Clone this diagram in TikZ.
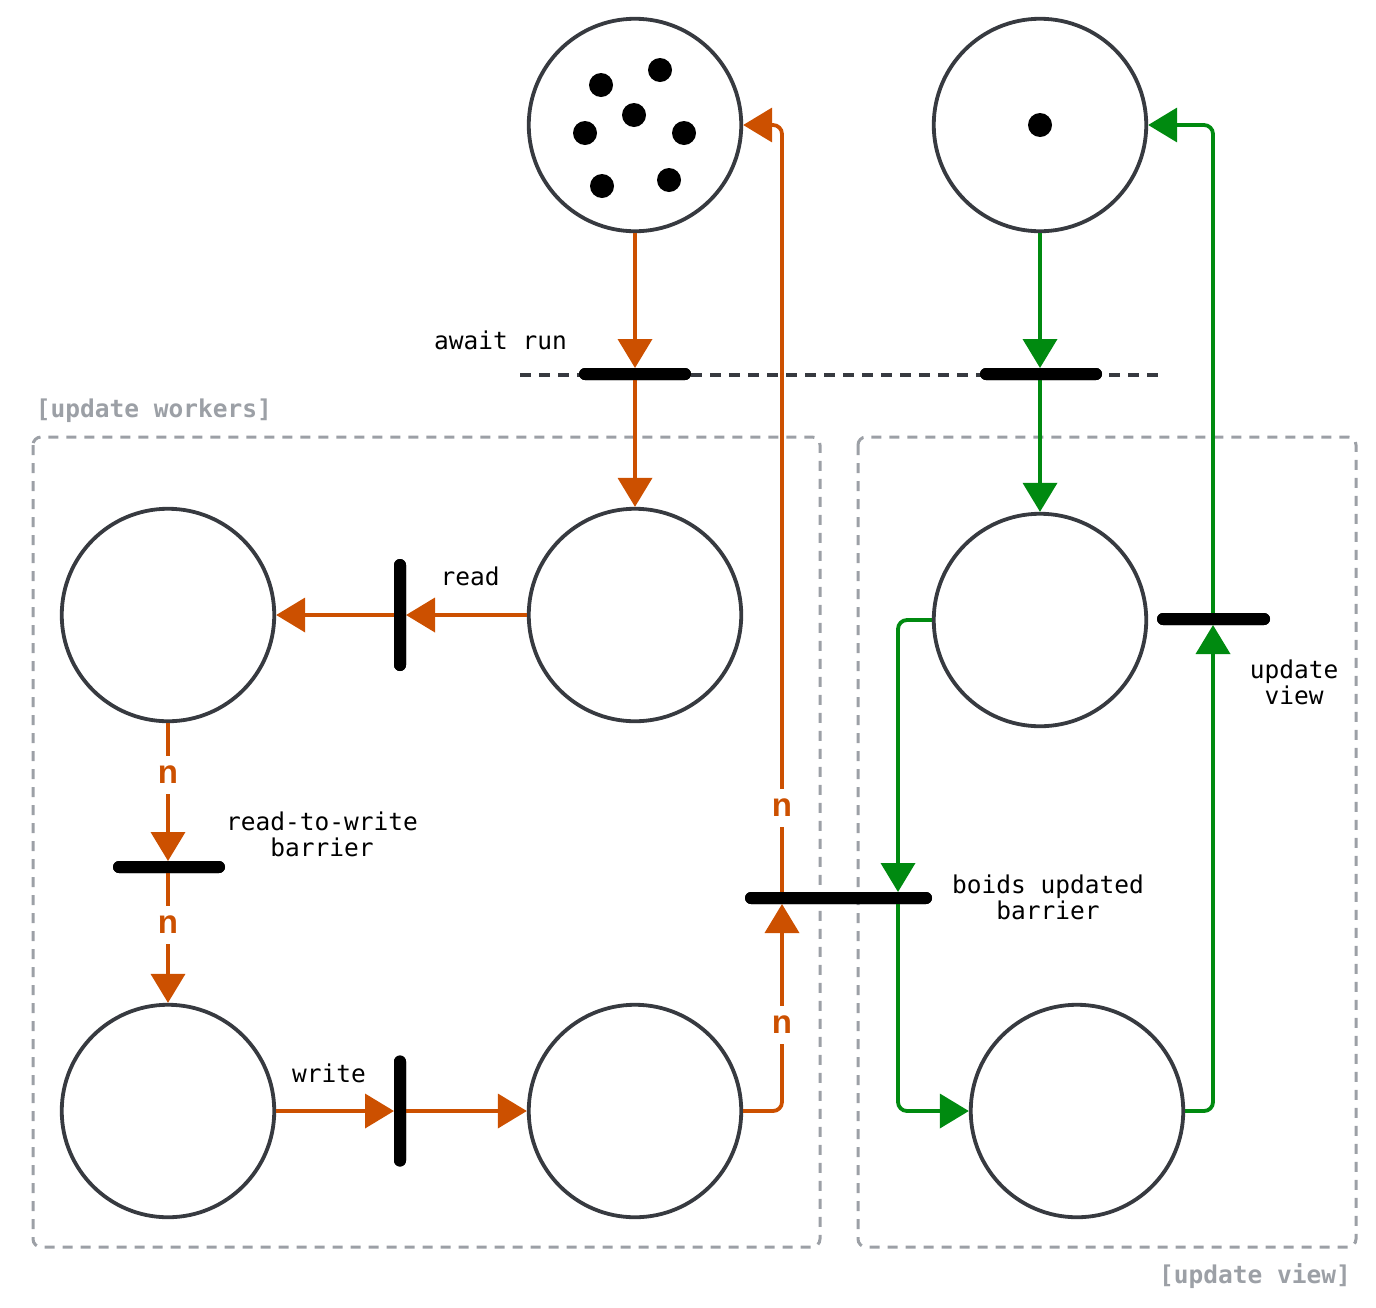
\documentclass[tikz,border=0pt]{standalone}
\usepackage{fontspec}
\newfontfamily\monof{DejaVu Sans Mono}
\newfontfamily\nfont{Liberation Sans}
\usetikzlibrary{arrows.meta,calc}
\definecolor{orng}{HTML}{CC5000}
\definecolor{grn}{HTML}{008A10}
\definecolor{ring}{HTML}{373A40}
\definecolor{boxg}{HTML}{9CA0A6}
\begin{document}
\begin{tikzpicture}[x=1pt,y=-1pt,
  place/.style={circle,draw=ring,line width=3.8pt,minimum size=212.5pt,inner sep=0pt},
  tok/.style={circle,fill=black,minimum size=24pt,inner sep=0pt},
  hbar/.style={rectangle,fill=black,rounded corners=6pt,minimum height=12pt,inner sep=0pt,outer sep=0pt},
  vbar/.style={rectangle,fill=black,rounded corners=6pt,minimum width=12pt,inner sep=0pt,outer sep=0pt},
  tip/.style={-{Triangle[length=29pt,width=34pt]}},
  oarc/.style={tip,draw=orng,line width=3.8pt,rounded corners=9pt},
  garc/.style={tip,draw=grn,line width=3.8pt,rounded corners=9pt},
  lab/.style={font=\monof\fontsize{24.5}{26}\selectfont,inner sep=0pt,anchor=base},
  glab/.style={font=\monof\bfseries\fontsize{24.5}{26}\selectfont,text=boxg,inner sep=0pt,anchor=base},
  nlab/.style={font=\nfont\bfseries\fontsize{33}{33}\selectfont,text=orng,fill=white,inner sep=0pt,minimum height=38pt},
  gbox/.style={draw=boxg,line width=3pt,dash pattern=on 10pt off 8pt,rounded corners=8pt}
]
\useasboundingbox (0,0) rectangle (1376,1307);

% group boxes
\draw[gbox] (33,437) rectangle (820,1247);
\draw[gbox] (858,437) rectangle (1356,1247);
\node[glab] (gl1) at (154,417) {[update workers]};
\node[glab] (gl2) at (1255,1283) {[update view]};

% dashed sync line
\coordinate (dl) at (520,375);
\coordinate (dr) at (1158,375);
\draw[ring,line width=3.5pt,dash pattern=on 11pt off 8pt] (dl) -- (dr);

% places
\node[place] (t1) at (635,125) {};
\node[place] (t2) at (1040,125) {};
\node[place] (pm) at (635,615) {};
\node[place] (pl) at (168,615) {};
\node[place] (plb) at (168,1111) {};
\node[place] (pbm) at (635,1111) {};
\node[place] (prm) at (1040,620) {};
\node[place] (prb) at (1077,1111) {};

% tokens
\node[tok] (k1) at (601,85) {};
\node[tok] (k2) at (660,70) {};
\node[tok] (k3) at (634,115) {};
\node[tok] (k4) at (585,133) {};
\node[tok] (k5) at (684,133) {};
\node[tok] (k6) at (602,186) {};
\node[tok] (k7) at (669,180) {};
\node[tok] (k8) at (1040,125) {};

% transitions (named first, drawn on top later)
\path (635,374) node[hbar,minimum width=112pt] (ta) {}
      (1041,374) node[hbar,minimum width=122pt] (tr) {}
      (400,615) node[vbar,minimum height=112pt] (trd) {}
      (169,867) node[hbar,minimum width=112pt] (trw) {}
      (400,1111) node[vbar,minimum height=111pt] (twr) {}
      (838.5,898) node[hbar,minimum width=187pt] (tb) {}
      (1213.5,619) node[hbar,minimum width=113pt] (tuv) {};

% orange arcs
\draw[oarc] (t1.south) -- (ta.north -| t1.south);
\draw[oarc] (ta.south -| pm.north) -- (pm.north);
\draw[oarc] (pm.west) -- (trd.east);
\draw[oarc] (trd.west) -- (pl.east);
\draw[oarc] (pl.south) -- (trw.north -| pl.south);
\draw[oarc] (trw.south -| pl.south) -- (plb.north);
\draw[oarc] (plb.east) -- (twr.west);
\draw[oarc] (twr.east) -- (pbm.west);
\draw[oarc] (pbm.east) -| (tb.south -| 782,0);
\draw[oarc] (tb.north -| 782,0) |- (t1.east);

% green arcs
\draw[garc] (t2.south) -- (tr.north -| t2.south);
\draw[garc] (tr.south -| t2.south) -- (prm.north);
\draw[garc] (prm.west) -| (tb.north -| 898,0);
\draw[garc] (tb.south -| 898,0) |- (prb.west);
\draw[garc] (prb.east) -| (tuv.south -| 1213,0);
\draw[garc] (tuv.north -| 1213,0) |- (t2.east);

% transitions drawn on top
\node[hbar,minimum width=112pt] at (ta) {};
\node[hbar,minimum width=122pt] at (tr) {};
\node[vbar,minimum height=112pt] at (trd) {};
\node[hbar,minimum width=112pt] at (trw) {};
\node[vbar,minimum height=111pt] at (twr) {};
\node[hbar,minimum width=187pt] at (tb) {};
\node[hbar,minimum width=113pt] at (tuv) {};

% n labels
\node[nlab] (n1) at (168,775) {n};
\node[nlab] (n2) at (168,925) {n};
\node[nlab] (n3) at (782,808) {n};
\node[nlab] (n4) at (782,1025) {n};

% labels
\node[lab] (l1) at (500.5,349) {await run};
\node[lab] (l2) at (470,585) {read};
\node[lab] (l3a) at (322,830) {read-to-write};
\node[lab] (l3b) at (322,856) {barrier};
\node[lab] (l4) at (329,1082) {write};
\node[lab] (l5a) at (1048,893) {boids updated};
\node[lab] (l5b) at (1048,919) {barrier};
\node[lab] (l6a) at (1294,678) {update};
\node[lab] (l6b) at (1294,704) {view};
\end{tikzpicture}
\end{document}
